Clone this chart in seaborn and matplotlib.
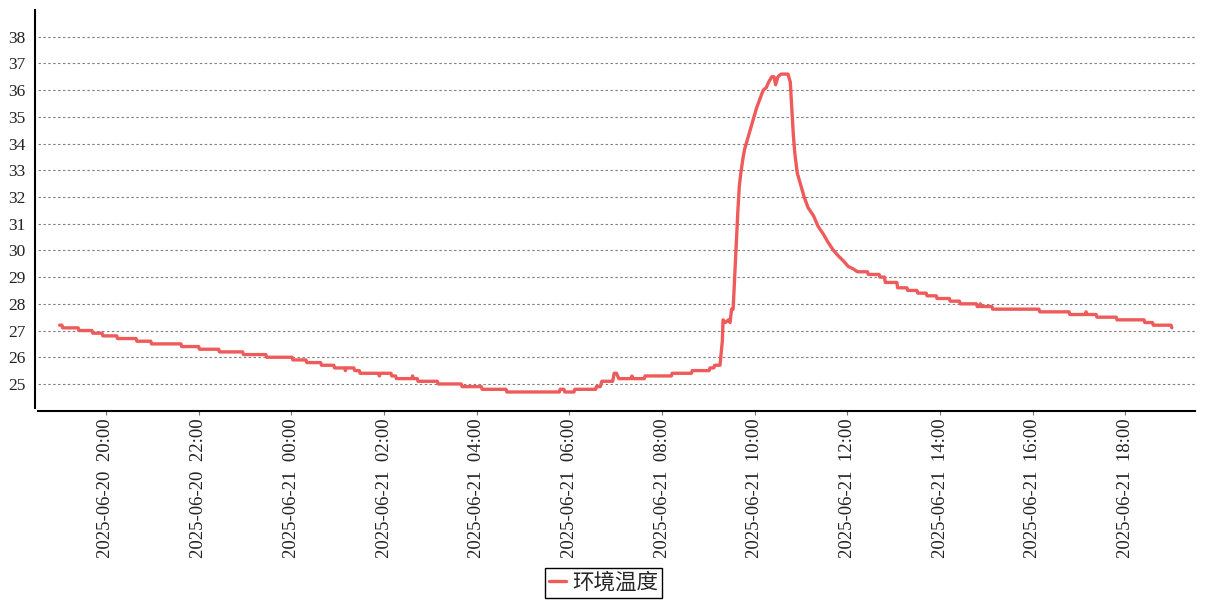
import matplotlib
matplotlib.use("Agg")
import matplotlib.pyplot as plt
import matplotlib.dates as mdates
import seaborn as sns
import pandas as pd

# ---------------- data ----------------
times = [
    "2025-06-20 19:00", "2025-06-20 19:03", "2025-06-20 19:04", "2025-06-20 19:24",
    "2025-06-20 19:25", "2025-06-20 19:42", "2025-06-20 19:43", "2025-06-20 19:55",
    "2025-06-20 19:56", "2025-06-20 20:14", "2025-06-20 20:15", "2025-06-20 20:39",
    "2025-06-20 20:40", "2025-06-20 20:58", "2025-06-20 20:59", "2025-06-20 21:37",
    "2025-06-20 21:38", "2025-06-20 22:00", "2025-06-20 22:01", "2025-06-20 22:26",
    "2025-06-20 22:27", "2025-06-20 22:57", "2025-06-20 22:58", "2025-06-20 23:27",
    "2025-06-20 23:28", "2025-06-21 00:01", "2025-06-21 00:02", "2025-06-21 00:19",
    "2025-06-21 00:20", "2025-06-21 00:38", "2025-06-21 00:39", "2025-06-21 00:55",
    "2025-06-21 00:56", "2025-06-21 01:09", "2025-06-21 01:10", "2025-06-21 01:11",
    "2025-06-21 01:21", "2025-06-21 01:22", "2025-06-21 01:28", "2025-06-21 01:29",
    "2025-06-21 01:53", "2025-06-21 01:54", "2025-06-21 01:55", "2025-06-21 02:09",
    "2025-06-21 02:10", "2025-06-21 02:15", "2025-06-21 02:16", "2025-06-21 02:36",
    "2025-06-21 02:37", "2025-06-21 02:38", "2025-06-21 02:43", "2025-06-21 02:44",
    "2025-06-21 03:09", "2025-06-21 03:10", "2025-06-21 03:40", "2025-06-21 03:41",
    "2025-06-21 04:06", "2025-06-21 04:07", "2025-06-21 04:38", "2025-06-21 04:39",
    "2025-06-21 05:47", "2025-06-21 05:48", "2025-06-21 05:53", "2025-06-21 05:54",
    "2025-06-21 06:06", "2025-06-21 06:07", "2025-06-21 06:34", "2025-06-21 06:35",
    "2025-06-21 06:40", "2025-06-21 06:42", "2025-06-21 06:56", "2025-06-21 06:58",
    "2025-06-21 07:01", "2025-06-21 07:04", "2025-06-21 07:20", "2025-06-21 07:21",
    "2025-06-21 07:22", "2025-06-21 07:37", "2025-06-21 07:38", "2025-06-21 08:12",
    "2025-06-21 08:13", "2025-06-21 08:38", "2025-06-21 08:39", "2025-06-21 09:01",
    "2025-06-21 09:02", "2025-06-21 09:07", "2025-06-21 09:08", "2025-06-21 09:15",
    "2025-06-21 09:18", "2025-06-21 09:19", "2025-06-21 09:22", "2025-06-21 09:26",
    "2025-06-21 09:28", "2025-06-21 09:30", "2025-06-21 09:32", "2025-06-21 09:35",
    "2025-06-21 09:38", "2025-06-21 09:40", "2025-06-21 09:42", "2025-06-21 09:45",
    "2025-06-21 09:47", "2025-06-21 09:50", "2025-06-21 09:54", "2025-06-21 09:58",
    "2025-06-21 10:02", "2025-06-21 10:07", "2025-06-21 10:11", "2025-06-21 10:15",
    "2025-06-21 10:18", "2025-06-21 10:22", "2025-06-21 10:25", "2025-06-21 10:27",
    "2025-06-21 10:30", "2025-06-21 10:34", "2025-06-21 10:43", "2025-06-21 10:46",
    "2025-06-21 10:48", "2025-06-21 10:50", "2025-06-21 10:52", "2025-06-21 10:55",
    "2025-06-21 11:00", "2025-06-21 11:04", "2025-06-21 11:09", "2025-06-21 11:16",
    "2025-06-21 11:22", "2025-06-21 11:29", "2025-06-21 11:35", "2025-06-21 11:42",
    "2025-06-21 11:48", "2025-06-21 11:55", "2025-06-21 12:01", "2025-06-21 12:08",
    "2025-06-21 12:13", "2025-06-21 12:26", "2025-06-21 12:27", "2025-06-21 12:41",
    "2025-06-21 12:42", "2025-06-21 12:48", "2025-06-21 12:49", "2025-06-21 13:04",
    "2025-06-21 13:05", "2025-06-21 13:17", "2025-06-21 13:18", "2025-06-21 13:30",
    "2025-06-21 13:31", "2025-06-21 13:42", "2025-06-21 13:43", "2025-06-21 13:55",
    "2025-06-21 13:56", "2025-06-21 14:12", "2025-06-21 14:13", "2025-06-21 14:25",
    "2025-06-21 14:26", "2025-06-21 14:47", "2025-06-21 14:48", "2025-06-21 14:51",
    "2025-06-21 14:52", "2025-06-21 14:53", "2025-06-21 15:07", "2025-06-21 15:08",
    "2025-06-21 16:08", "2025-06-21 16:09", "2025-06-21 16:47", "2025-06-21 16:48",
    "2025-06-21 17:08", "2025-06-21 17:09", "2025-06-21 17:10", "2025-06-21 17:22",
    "2025-06-21 17:23", "2025-06-21 17:48", "2025-06-21 17:49", "2025-06-21 18:24",
    "2025-06-21 18:25", "2025-06-21 18:35", "2025-06-21 18:36", "2025-06-21 18:59",
    "2025-06-21 19:00",
]
temps = [
    27.2, 27.2, 27.1, 27.1,
    27.0, 27.0, 26.9, 26.9,
    26.8, 26.8, 26.7, 26.7,
    26.6, 26.6, 26.5, 26.5,
    26.4, 26.4, 26.3, 26.3,
    26.2, 26.2, 26.1, 26.1,
    26.0, 26.0, 25.9, 25.9,
    25.8, 25.8, 25.7, 25.7,
    25.6, 25.6, 25.5, 25.6,
    25.6, 25.5, 25.5, 25.4,
    25.4, 25.3, 25.4, 25.4,
    25.3, 25.3, 25.2, 25.2,
    25.3, 25.2, 25.2, 25.1,
    25.1, 25.0, 25.0, 24.9,
    24.9, 24.8, 24.8, 24.7,
    24.7, 24.8, 24.8, 24.7,
    24.7, 24.8, 24.8, 24.9,
    24.9, 25.1, 25.1, 25.4,
    25.4, 25.2, 25.2, 25.3,
    25.2, 25.2, 25.3, 25.3,
    25.4, 25.4, 25.5, 25.5,
    25.6, 25.6, 25.7, 25.7,
    26.6, 27.4, 27.3, 27.4,
    27.3, 27.8, 27.8, 29.6,
    31.4, 32.4, 32.9, 33.5,
    33.8, 34.1, 34.5, 34.9,
    35.3, 35.7, 36.0, 36.1,
    36.3, 36.5, 36.5, 36.2,
    36.5, 36.6, 36.6, 36.3,
    35.3, 34.3, 33.6, 32.9,
    32.4, 32.0, 31.6, 31.3,
    30.9, 30.6, 30.3, 30.0,
    29.8, 29.6, 29.4, 29.3,
    29.2, 29.2, 29.1, 29.1,
    29.0, 29.0, 28.8, 28.8,
    28.6, 28.6, 28.5, 28.5,
    28.4, 28.4, 28.3, 28.3,
    28.2, 28.2, 28.1, 28.1,
    28.0, 28.0, 27.9, 27.9,
    28.0, 27.9, 27.9, 27.8,
    27.8, 27.7, 27.7, 27.6,
    27.6, 27.7, 27.6, 27.6,
    27.5, 27.5, 27.4, 27.4,
    27.3, 27.3, 27.2, 27.2,
    27.1,
]
series_name = "环境温度"
x_tick_times = ["2025-06-20 20:00", "2025-06-20 22:00", "2025-06-21 00:00",
                "2025-06-21 02:00", "2025-06-21 04:00", "2025-06-21 06:00",
                "2025-06-21 08:00", "2025-06-21 10:00", "2025-06-21 12:00",
                "2025-06-21 14:00", "2025-06-21 16:00", "2025-06-21 18:00"]
y_ticks = list(range(25, 39))

LINE_COLOR = "#EF5A5A"

# ---------------- styling ----------------
sns.set_theme(style="white")
plt.rcParams["font.family"] = ["Liberation Serif", "Noto Sans CJK SC", "DejaVu Sans"]

W, H = 1207, 600
fig = plt.figure(figsize=(W / 100, H / 100), dpi=100)
ax = fig.add_axes([38 / W, 1 - 408 / H, (1195 - 38) / W, (408 - 10) / H])

df = pd.DataFrame({"time": pd.to_datetime(times), series_name: temps})
sns.lineplot(data=df, x="time", y=series_name, ax=ax, color=LINE_COLOR,
             linewidth=2.4, label=series_name, estimator=None, sort=False)

ax.set_xlim(mdates.date2num(pd.Timestamp("2025-06-20 18:32")),
            mdates.date2num(pd.Timestamp("2025-06-21 19:30")))
ax.set_ylim(24.1, 39.0)
ax.set_yticks(y_ticks)
ax.set_xticks(mdates.date2num(pd.to_datetime(x_tick_times).to_pydatetime()))
ax.xaxis.set_major_formatter(mdates.DateFormatter("%Y-%m-%d  %H:%M"))

ax.set_xlabel("")
ax.set_ylabel("")
ax.grid(axis="y", linestyle=(0, (2.2, 2.2)), color="#808080", linewidth=0.8)
ax.grid(axis="x", visible=False)

sns.despine(ax=ax, offset=2.2)
for side in ("left", "bottom"):
    ax.spines[side].set_color("black")
    ax.spines[side].set_linewidth(1.5)

ax.tick_params(axis="y", length=0, pad=7, labelsize=12.5, labelcolor="#222222")
ax.tick_params(axis="x", length=3, width=0.8, color="#777777", pad=2.5,
               labelsize=13.5, labelcolor="#222222", bottom=True,
               labelrotation=90)

handles, labels = ax.get_legend_handles_labels()
if ax.get_legend() is not None:
    ax.get_legend().remove()
leg = fig.legend(handles, labels, loc="lower center", bbox_to_anchor=(0.5, 0.003),
                 frameon=True, fancybox=False, edgecolor="black", framealpha=1,
                 prop={"family": ["Noto Sans CJK SC", "DejaVu Sans"], "size": 15.5},
                 handlelength=0.8, handletextpad=0.25, borderpad=0.2,
                 borderaxespad=0)
leg.get_frame().set_linewidth(1.0)

fig.savefig("out.png", dpi=100)
